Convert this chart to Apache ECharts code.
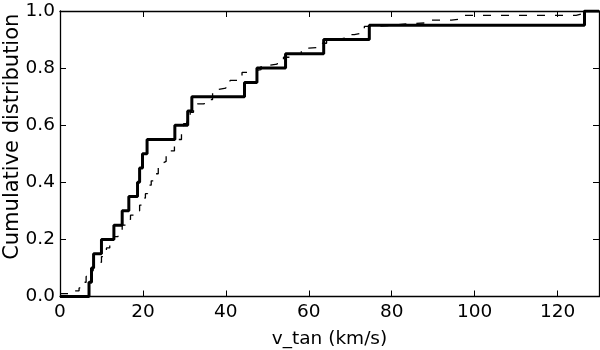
<!DOCTYPE html>
<html>
<head>
<meta charset="utf-8">
<script src="https://cdn.jsdelivr.net/npm/echarts@6/dist/echarts.min.js"></script>
<style>
html,body{margin:0;padding:0;background:#fff;}
#chart{width:600px;height:350px;}
</style>
</head>
<body>
<div id="chart"></div>
<script>
// Observed (solid) cumulative distribution: step positions and levels
var obsX = [0, 7.0, 7.6, 8.1, 10.0, 13.0, 15.0, 16.6, 18.7, 19.2, 19.9, 21.0, 27.7, 30.8, 31.8, 44.5, 47.5, 54.4, 63.6, 74.6, 126.5, 130];
var obsY = [0, 0.05, 0.10, 0.15, 0.20, 0.25, 0.30, 0.35, 0.40, 0.45, 0.50, 0.55, 0.60, 0.65, 0.70, 0.75, 0.80, 0.85, 0.90, 0.95, 1.00, 1.00];

// Model (dashed) cumulative distribution
var modX = [0, 3.4, 4.6, 5.4, 6.3, 7.3, 8.0, 9.0, 10.0, 11.2, 12.0, 13.0, 14.0, 15.0, 16.0, 17.0, 18.0, 19.2, 19.8, 20.6, 21.1, 22.0, 22.5, 23.7, 24.6, 25.6, 26.4, 27.6, 28.0, 29.3, 29.8, 30.6, 31.4, 32.2, 33.2, 34.8, 36.8, 38.2, 40.0, 41.0, 42.8, 43.9, 45.8, 46.9, 48.5, 50.5, 52.4, 53.9, 56.0, 58.2, 60.0, 63.3, 64.3, 66.5, 68.6, 71.0, 72.6, 73.4, 76.0, 80.0, 84.0, 87.9, 89.1, 92.7, 94.4, 96.8, 97.6, 123.3, 124.5, 126.0, 130];
var modY = [0.01, 0.02, 0.03, 0.05, 0.07, 0.09, 0.105, 0.12, 0.14, 0.17, 0.19, 0.21, 0.23, 0.25, 0.27, 0.285, 0.30, 0.32, 0.345, 0.36, 0.39, 0.405, 0.43, 0.466, 0.473, 0.50, 0.51, 0.53, 0.55, 0.57, 0.605, 0.625, 0.645, 0.66, 0.675, 0.69, 0.725, 0.73, 0.74, 0.757, 0.77, 0.785, 0.79, 0.795, 0.81, 0.814, 0.826, 0.838, 0.85, 0.87, 0.873, 0.887, 0.898, 0.905, 0.917, 0.922, 0.93, 0.946, 0.95, 0.955, 0.958, 0.96, 0.968, 0.968, 0.972, 0.975, 0.985, 0.985, 0.99, 1.0, 1.0];

var xTicks = [0, 20, 40, 60, 80, 100, 120];
var yTicks = [0.0, 0.2, 0.4, 0.6, 0.8, 1.0];

function zip(a, b) { return a.map(function (v, i) { return [v, b[i]]; }); }

var FONT = 'DejaVu Sans';
var chart = echarts.init(document.getElementById('chart'), null, {renderer: 'canvas'});
var axisCommon = {
  axisLine: {show: true, onZero: false, lineStyle: {color: '#000', width: 1.3}},
  axisTick: {show: true, inside: true, length: 6, lineStyle: {color: '#000', width: 1}},
  splitLine: {show: false}
};
chart.setOption({
  backgroundColor: '#fff',
  animation: false,
  grid: {left: 60, right: 1, top: 11, bottom: 53.5, containLabel: false, outerBoundsMode: 'none'},
  xAxis: [
    Object.assign({
      type: 'value', min: 0, max: 130, interval: 20, position: 'bottom',
      name: 'v_tan (km/s)', nameLocation: 'middle', nameGap: 33, nameMoveOverlap: false,
      nameTextStyle: {fontFamily: FONT, fontSize: 18.5, color: '#000'},
      axisLabel: {fontFamily: FONT, fontSize: 18.5, color: '#000', margin: 6,
        formatter: function (v) { return xTicks.indexOf(v) >= 0 ? String(v) : ''; }}
    }, axisCommon),
    Object.assign({
      type: 'value', min: 0, max: 130, interval: 20, position: 'top',
      axisLabel: {show: false}
    }, axisCommon)
  ],
  yAxis: [
    Object.assign({
      type: 'value', min: 0, max: 1, interval: 0.2, position: 'left',
      name: 'Cumulative distribution', nameLocation: 'middle', nameGap: 37, nameMoveOverlap: false,
      nameTextStyle: {fontFamily: FONT, fontSize: 21, color: '#000', padding: [0, 0, 0, 34]},
      axisLabel: {fontFamily: FONT, fontSize: 18.5, color: '#000', margin: 5,
        formatter: function (v) { return yTicks.indexOf(Math.round(v * 10) / 10) >= 0 ? v.toFixed(1) : ''; }}
    }, axisCommon),
    Object.assign({
      type: 'value', min: 0, max: 1, interval: 0.2, position: 'right',
      axisLabel: {show: false}
    }, axisCommon)
  ],
  series: [
    {
      type: 'line', xAxisIndex: 0, yAxisIndex: 0, step: 'end', showSymbol: false,
      data: zip(modX, modY), z: 2,
      lineStyle: {color: '#000', width: 1.3, type: [8, 10]}
    },
    {
      type: 'line', xAxisIndex: 0, yAxisIndex: 0, step: 'end', showSymbol: false,
      data: zip(obsX, obsY), z: 3,
      lineStyle: {color: '#000', width: 3}
    }
  ]
});
</script>
</body>
</html>
